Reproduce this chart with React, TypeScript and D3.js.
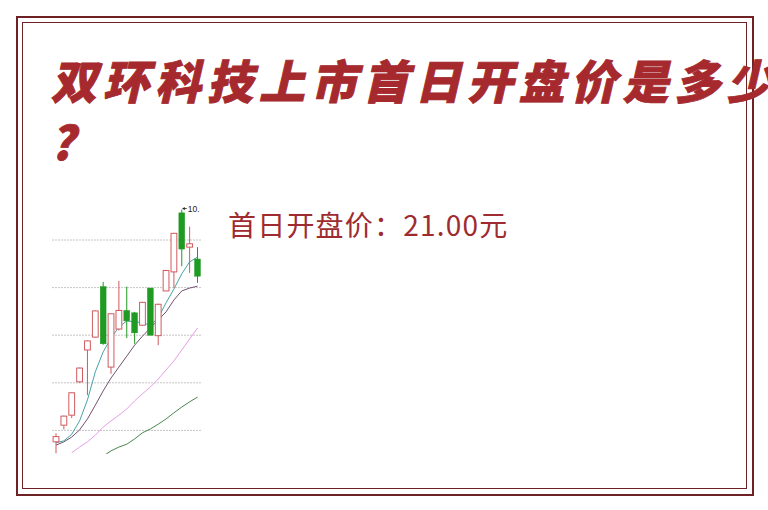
import React from 'react';
import * as d3 from 'd3';

// daily candles
const opens = [5.76, 6.11, 6.32, 7.02, 7.69, 7.96, 9.02, 7.33, 8.13, 8.52, 8.47, 8.21, 8.99, 7.99, 8.93, 9.33, 10.57, 9.85, 9.60];
const closes = [5.87, 6.30, 6.79, 7.31, 7.88, 8.51, 7.82, 8.45, 8.52, 8.30, 8.05, 8.69, 8.00, 8.65, 9.36, 10.14, 9.81, 9.92, 9.24];
const highs = [5.94, 6.31, 6.80, 7.32, 7.89, 8.52, 9.12, 8.46, 9.14, 9.02, 8.49, 8.70, 8.99, 8.66, 9.37, 10.15, 10.64, 10.28, 9.85];
const lows = [5.52, 6.02, 6.26, 7.00, 6.74, 7.95, 7.80, 7.19, 8.10, 7.94, 7.82, 8.20, 8.00, 7.79, 8.93, 9.00, 9.45, 9.31, 9.10];

// moving averages (null = not drawn)
const ma5 = [5.74, 5.78, 5.92, 6.2, 6.64, 7.23, 7.65, 7.94, 8.17, 8.3, 8.28, 8.26, 8.21, 8.36, 8.68, 8.97, 9.29, 9.54, 9.64];
const ma10 = [5.69, 5.76, 5.86, 6.01, 6.24, 6.53, 6.83, 7.1, 7.33, 7.56, 7.79, 7.98, 8.15, 8.32, 8.49, 8.74, 8.93, 8.99, 9.03];
const ma20 = [null, null, 5.53, 5.65, 5.76, 5.9, 6.07, 6.2, 6.32, 6.45, 6.62, 6.77, 6.91, 7.08, 7.27, 7.46, 7.69, 7.92, 8.15];
const ma60 = [null, null, null, null, null, null, 5.46, 5.57, 5.65, 5.71, 5.82, 5.95, 6.03, 6.13, 6.24, 6.37, 6.49, 6.6, 6.7];

const gridLevels = [10, 9, 8, 7, 6];

const titleLine1 = '双环科技上市首日开盘价是多少';
const titleLine2 = '?';
const answer = '首日开盘价：21.00元';

const W = 768;
const H = 510;

const frameColor = '#6e2226';
const titleColor = '#a5292d';
const upColor = '#d05a5e';
const downColor = '#1f9a22';

const App: React.FC = () => {
  const idx = d3.range(opens.length);
  const x = d3.scalePoint<number>().domain(idx).range([56, 197.5]);
  const y = d3.scaleLinear().domain([6, 10]).range([430.4, 240]);
  const cw = 5.8;

  const maLine = d3
    .line<number | null>()
    .defined(d => d != null)
    .x((_, i) => x(i) as number)
    .y(d => y(d as number));

  const maSeries = [
    { values: ma60, color: '#4a874a' },
    { values: ma20, color: '#e79de7' },
    { values: ma10, color: '#74506f' },
    { values: ma5, color: '#46a3a6' },
  ];

  const topI = d3.maxIndex(highs);
  const topX = x(topI) as number;
  const topY = y(highs[topI]);

  return (
    <svg
      width={W}
      height={H}
      viewBox={`0 0 ${W} ${H}`}
      style={{ position: 'absolute', left: 0, top: 0, background: '#fff' }}
    >
      <defs>
        <clipPath id="plot">
          <rect x={52} y={200} width={150} height={254} />
        </clipPath>
        <clipPath id="lbl">
          <rect x={150} y={195} width={49.5} height={30} />
        </clipPath>
      </defs>

      <rect x={17} y={17} width={736} height={478} fill="none" stroke={frameColor} strokeWidth={2} />
      <rect x={22.5} y={22.5} width={724} height={466} fill="none" stroke={frameColor} strokeWidth={1} />

      <g
        fill={titleColor}
        stroke={titleColor}
        strokeWidth={0.9}
        fontFamily="'Noto Sans CJK SC', sans-serif"
        fontWeight={900}
        fontSize={46}
      >
        <text transform="translate(51,99) skewX(-13)" letterSpacing={6}>
          {titleLine1}
        </text>
        <text transform="translate(50,160) skewX(-13)">{titleLine2}</text>
      </g>

      <text
        x={228}
        y={236}
        fill="#9e2b30"
        fontFamily="'Noto Sans CJK SC', sans-serif"
        fontSize={28}
        letterSpacing={1.2}
      >
        {answer}
      </text>

      <g clipPath="url(#plot)">
        {gridLevels.map(v => (
          <line
            key={v}
            x1={52.5}
            x2={201.7}
            y1={y(v)}
            y2={y(v)}
            stroke="#8c8c8c"
            strokeWidth={1}
            strokeDasharray="1,2"
          />
        ))}

        {maSeries.map((s, k) => (
          <path key={k} d={maLine(s.values) || ''} fill="none" stroke={s.color} strokeWidth={1} />
        ))}

        {idx.map(i => {
          const up = closes[i] >= opens[i];
          const c = up ? upColor : downColor;
          const cx = x(i) as number;
          const top = y(Math.max(opens[i], closes[i]));
          const bot = y(Math.min(opens[i], closes[i]));
          return (
            <g key={i}>
              <line x1={cx} x2={cx} y1={y(highs[i])} y2={y(lows[i])} stroke={c} strokeWidth={1} />
              <rect
                x={cx - cw / 2}
                y={top}
                width={cw}
                height={Math.max(1, bot - top)}
                fill={up ? '#fff' : c}
                stroke={c}
                strokeWidth={up ? 1 : 0.5}
              />
            </g>
          );
        })}

        <g clipPath="url(#lbl)">
          <line x1={topX + 1} x2={topX + 5} y1={topY - 1} y2={topY - 1} stroke="#222" strokeWidth={0.8} />
          <path d={`M${topX + 0.5},${topY - 1} l2.5,-1.6 v3.2 z`} fill="#222" />
          <text x={topX + 6} y={topY + 2} fontSize={8.5} fill="#222" fontFamily="Arial, 'Liberation Sans', sans-serif">
            {d3.format('.2f')(highs[topI])}
          </text>
        </g>
      </g>
    </svg>
  );
};

export default App;
